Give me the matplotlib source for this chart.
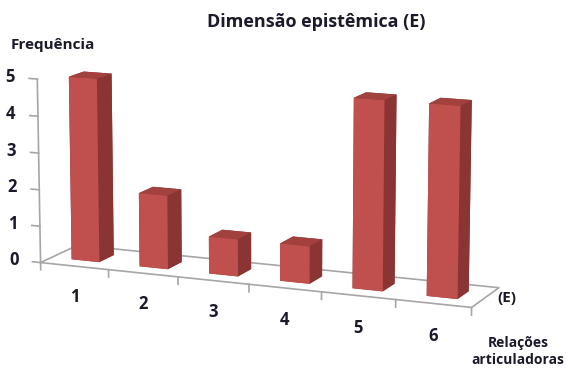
import matplotlib
matplotlib.use("Agg")
import matplotlib.pyplot as plt
import numpy as np

# data
categories = ["1", "2", "3", "4", "5", "6"]
freq = [5, 2, 1, 1, 5, 5]
yticks = [0, 1, 2, 3, 4, 5]

FRONT = "#c0504d"
SIDE = "#8a3533"
TOP = "#a3413f"
LINE = "#a6a6a6"
TXT = "#1a1a2a"
FONT = "Open Sans"


def main():
    fig = plt.figure(figsize=(5.66, 3.72), dpi=100)
    # a big square 3d box so the perspective clip never cuts the floor
    ax = fig.add_axes([-0.147, -0.414, 1.2, 1.8], projection="3d",
                      computed_zorder=False)
    ax.set_proj_type("persp", focal_length=0.75)
    ax.view_init(elev=12, azim=-67)
    ax.set_box_aspect((1, 0.18, 0.41), zoom=0.74)
    ax.set_xlim(0.5, 6.5)
    ax.set_ylim(0, 1)
    ax.set_zlim(0, 5)
    ax.set_xticks([])
    ax.set_yticks([])
    ax.set_zticks([])
    ax.set_axis_off()

    x = np.arange(1, len(freq) + 1)
    w, d = 0.41, 0.4

    # floor outline
    ax.plot([0.5, 6.5, 6.5, 0.5, 0.5], [0, 0, 1, 1, 0], [0] * 5,
            color=LINE, lw=1.2, zorder=1)
    # value axis at the front-left corner
    ax.plot([0.5, 0.5], [0, 0], [0, 5], color=LINE, lw=1.2, zorder=1)
    for t in yticks:
        ax.plot([0.5, 0.38], [0, 0], [t, t], color=LINE, lw=1.2, zorder=1)
        ax.text(0.1, 0, t, str(t), ha="center", va="center",
                fontsize=12, fontweight="bold", color=TXT, family=FONT)
    # category ticks and labels
    for b in np.arange(0.5, 7.0, 1.0):
        ax.plot([b, b], [0, 0], [0, -0.2], color=LINE, lw=1.2, zorder=1)
    for xi, lab in zip(x, categories):
        ax.text(xi, 0, -0.85, lab, ha="center", va="center",
                fontsize=12, fontweight="bold", color=TXT, family=FONT)

    # face order in bar3d: -z, +z, -y, +y, -x, +x
    faces = [TOP, TOP, FRONT, SIDE, SIDE, SIDE] * len(x)
    ax.bar3d(x - w / 2, np.full(len(x), 0.5 - d / 2), np.zeros(len(x)),
             w, d, freq, color=faces, shade=False, edgecolor="none",
             zorder=2)

    fig.text(0.558, 0.94, "Dimensão epistêmica (E)", ha="center", va="center",
             fontsize=13, fontweight="bold", color=TXT, family=FONT)
    fig.text(0.018, 0.88, "Frequência", ha="left", va="center",
             fontsize=11, fontweight="bold", color=TXT, family=FONT)
    fig.text(0.878, 0.2, "(E)", ha="left", va="center",
             fontsize=11, fontweight="bold", color=TXT, family=FONT)
    fig.text(0.915, 0.055, "Relações\narticuladoras", ha="center", va="center",
             fontsize=10, fontweight="bold", color=TXT, family=FONT,
             linespacing=1.2)

    fig.savefig("out.png", dpi=100, facecolor="white")
    plt.close(fig)


if __name__ == "__main__":
    main()
